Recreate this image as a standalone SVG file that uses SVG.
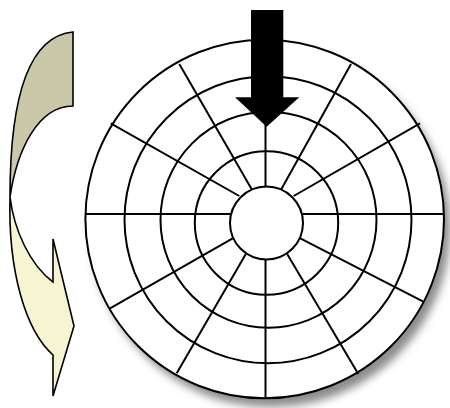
<svg xmlns="http://www.w3.org/2000/svg" width="450" height="408" viewBox="0 0 450 408">
<defs>
<filter id="blur" x="-20%" y="-20%" width="140%" height="140%"><feGaussianBlur stdDeviation="4"/></filter>
<style>
.ring{fill:none;stroke:#000;stroke-width:2}
.spoke{stroke:#000;stroke-width:2;fill:none}
.rib{stroke:#000;stroke-width:1.6;stroke-linejoin:miter}
</style>
</defs>
<rect width="450" height="408" fill="#fff"/>
<g id="rotation-arrow">
<path class="rib" fill="#cbc8aa" d="M73,32 C30,36 10,95 10,197 C17,150 38,106 73,106 Z"/>
<path class="rib" fill="#f7f4d1" d="M10,197 C14,230 30,265 53,282 L53,239 L74,326 L53,396 L53,355 C25,330 8,270 10,197 Z"/>
</g>
<g id="disk">
<circle cx="271" cy="228" r="179.3" fill="#8c8c8c" filter="url(#blur)"/>
<circle cx="264.7" cy="219" r="179.3" fill="#fff"/>
<g id="spokes">
<line class="spoke" x1="85" y1="214" x2="231" y2="214"/>
<line class="spoke" x1="302" y1="214" x2="444.3" y2="214"/>
<line class="spoke" x1="265.5" y1="40" x2="265.5" y2="187"/>
<line class="spoke" x1="265.5" y1="259" x2="265.5" y2="398"/>
<line class="spoke" x1="110.7" y1="123.3" x2="239.3" y2="196"/>
<line class="spoke" x1="179.3" y1="64" x2="251.7" y2="189.3"/>
<line class="spoke" x1="110" y1="308.3" x2="232.7" y2="238.3"/>
<line class="spoke" x1="176.7" y1="373.3" x2="245.7" y2="254.3"/>
<line class="spoke" x1="420" y1="123.3" x2="293.7" y2="196"/>
<line class="spoke" x1="351" y1="64" x2="281.3" y2="189.3"/>
<line class="spoke" x1="423.3" y1="301.7" x2="300.3" y2="238.3"/>
<line class="spoke" x1="358.3" y1="374" x2="287.3" y2="254.3"/>
</g>
<g id="rings">
<circle class="ring" cx="264.7" cy="219" r="179.3"/>
<circle class="ring" cx="268" cy="219.7" r="143.5"/>
<circle class="ring" cx="268.5" cy="219.7" r="108"/>
<circle class="ring" cx="266.5" cy="223" r="71.7"/>
<circle class="ring" cx="266.5" cy="223" r="36.5" fill="#fff"/>
</g>
</g>
<g id="pointer">
<polygon fill="#000" points="251,10 283.3,10 283.3,97.3 299.3,97.3 266.7,126.7 235,97.3 251,97.3"/>
</g>
</svg>
